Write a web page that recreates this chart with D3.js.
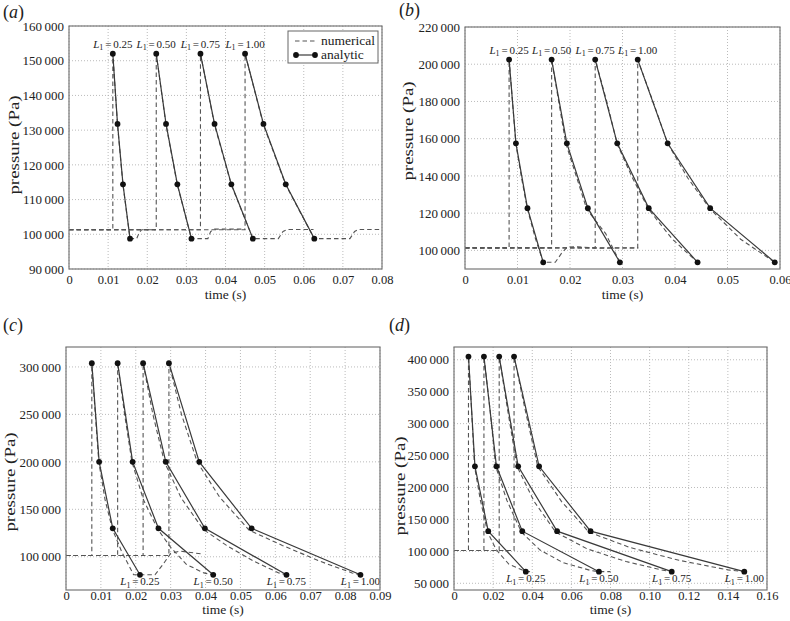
<!DOCTYPE html>
<html><head><meta charset="utf-8">
<script src="https://cdn.jsdelivr.net/npm/d3@7"></script>
<style>
body{margin:0;background:#fff}
svg text{font-family:"Liberation Serif","Times New Roman",serif;fill:#222}
</style>
</head><body>
<svg id="fig" width="790" height="621"></svg>
<script>
// ---------- shared ----------
const L1_VALUES = ["0.25", "0.50", "0.75", "1.00"];

// ---------- panel (a) ----------
const A_PRESSURE = [152000, 131800, 114400, 98750];
const A_TIMES = [
  [0.0112, 0.0124, 0.0138, 0.0156],
  [0.0223, 0.0248, 0.0277, 0.0313],
  [0.0336, 0.0372, 0.0415, 0.0470],
  [0.0450, 0.0497, 0.0554, 0.0627]
];
const A_NUMERICAL = [
  [[0,101325],[0.0112,101325],[0.0112,152000],[0.0124,131500],[0.0138,114200],[0.0156,98750],[0.0173,98750],[0.0180,100600],[0.0186,101325],[0.0220,101325]],
  [[0,101325],[0.0223,101325],[0.0223,152000],[0.0248,131500],[0.0277,114200],[0.0313,98750],[0.0355,98750],[0.0362,100800],[0.0372,101500],[0.0450,101500]],
  [[0,101325],[0.0336,101325],[0.0336,152000],[0.0372,131500],[0.0415,114200],[0.0470,98750],[0.0535,98750],[0.0547,100800],[0.0558,101400],[0.0625,101400]],
  [[0,101325],[0.0450,101325],[0.0450,152000],[0.0497,131500],[0.0554,114200],[0.0627,98750],[0.0718,98750],[0.0730,100800],[0.0740,101400],[0.0800,101400]]
];
const A_XTICKS = [0, 0.01, 0.02, 0.03, 0.04, 0.05, 0.06, 0.07, 0.08];
const A_YTICKS = [90000, 100000, 110000, 120000, 130000, 140000, 150000, 160000];

// ---------- panel (b) ----------
const B_PRESSURE = [202500, 157500, 122700, 93600];
const B_TIMES = [
  [0.0084, 0.0097, 0.0119, 0.0149],
  [0.0165, 0.0194, 0.0234, 0.0295],
  [0.0248, 0.0290, 0.0350, 0.0443],
  [0.0329, 0.0386, 0.0467, 0.0590]
];
const B_NUMERICAL = [
  [[0,101325],[0.0084,101325],[0.0084,202500],[0.0097,157000],[0.0108,138500],[0.0119,122000],[0.0134,106500],[0.0149,93600],[0.0172,93600],[0.0184,98500],[0.0195,101800],[0.0215,101900],[0.0250,101200],[0.0330,101325]],
  [[0,101325],[0.0165,101325],[0.0165,202500],[0.0192,157500],[0.0232,122000],[0.0268,109000],[0.0295,93600]],
  [[0,101325],[0.0248,101325],[0.0248,202500],[0.0270,180000],[0.0290,157000],[0.0318,139500],[0.0350,122000],[0.0395,106000],[0.0443,93600]],
  [[0,101325],[0.0329,101325],[0.0329,202500],[0.0358,180000],[0.0386,157500],[0.0424,139000],[0.0467,122200],[0.0525,106000],[0.0590,93600]]
];
const B_XTICKS = [0, 0.01, 0.02, 0.03, 0.04, 0.05, 0.06];
const B_YTICKS = [100000, 120000, 140000, 160000, 180000, 200000, 220000];

// ---------- panel (c) ----------
const C_PRESSURE = [304000, 200000, 130000, 81000];
const C_TIMES = [
  [0.0074, 0.0095, 0.0134, 0.0212],
  [0.0148, 0.0191, 0.0265, 0.0422],
  [0.0221, 0.0286, 0.0398, 0.0632],
  [0.0295, 0.0382, 0.0532, 0.0844]
];
const C_NUMERICAL = [
  [[0,101325],[0.0074,101325],[0.0074,304000],[0.0084,250000],[0.0094,200000],[0.0112,160000],[0.0133,129000],[0.0160,105000],[0.0194,81000],[0.0255,81000],[0.0278,92000],[0.0300,103500],[0.0326,106000],[0.0389,103000]],
  [[0,101325],[0.0148,101325],[0.0148,304000],[0.0168,250000],[0.0189,200000],[0.0222,160000],[0.0263,129000],[0.0300,110000],[0.0345,92000],[0.0395,83000],[0.0422,81000]],
  [[0,101325],[0.0221,101325],[0.0221,304000],[0.0249,250000],[0.0282,200000],[0.0330,162000],[0.0393,129000],[0.0460,112000],[0.0540,95000],[0.0610,83000],[0.0632,81000]],
  [[0,101325],[0.0295,101325],[0.0295,304000],[0.0331,250000],[0.0376,200000],[0.0440,163000],[0.0525,128000],[0.0620,112000],[0.0730,95000],[0.0820,83000],[0.0844,81000]]
];
const C_XTICKS = [0, 0.01, 0.02, 0.03, 0.04, 0.05, 0.06, 0.07, 0.08, 0.09];
const C_YTICKS = [100000, 150000, 200000, 250000, 300000];

// ---------- panel (d) ----------
const D_PRESSURE = [405000, 233200, 131600, 68200];
const D_TIMES = [
  [0.0074, 0.0107, 0.0175, 0.0367],
  [0.0153, 0.0217, 0.0349, 0.0741],
  [0.0231, 0.0328, 0.0527, 0.1113],
  [0.0307, 0.0435, 0.0698, 0.1484]
];
const D_NUMERICAL = [
  [[0,101325],[0.0074,101325],[0.0074,405000],[0.0090,320000],[0.0105,233000],[0.0135,180000],[0.0172,130000],[0.0215,103000],[0.0280,80000],[0.0367,68200],[0.0400,68200]],
  [[0,101325],[0.0153,101325],[0.0153,405000],[0.0185,320000],[0.0213,233000],[0.0270,180000],[0.0345,130000],[0.0440,102000],[0.0560,82000],[0.0700,70000],[0.0741,68200],[0.0800,68200]],
  [[0,101325],[0.0231,101325],[0.0231,405000],[0.0275,320000],[0.0322,233000],[0.0410,178000],[0.0520,130000],[0.0680,104000],[0.0880,84000],[0.1060,71000],[0.1113,68200]],
  [[0,101325],[0.0307,101325],[0.0307,405000],[0.0365,320000],[0.0428,233000],[0.0550,178000],[0.0690,130000],[0.0900,106000],[0.1150,86000],[0.1400,71000],[0.1484,68200]]
];
const D_XTICKS = [0, 0.02, 0.04, 0.06, 0.08, 0.10, 0.12, 0.14, 0.16];
const D_YTICKS = [50000, 100000, 150000, 200000, 250000, 300000, 350000, 400000];

// ---------- layout ----------
const PANELS = [
  {letter:"a", box:[69,26,382,269], xDom:[0,0.08], yDom:[90000,160000], xTicks:A_XTICKS, yTicks:A_YTICKS,
   times:A_TIMES, pressure:A_PRESSURE, numerical:A_NUMERICAL, labelsTop:true, legend:true,
   letterPos:[3,18], ylabX:14, ylabY:145, xlabBase:299, tickBase:284},
  {letter:"b", box:[465,27,780,269], xDom:[0,0.06], yDom:[90000,220000], xTicks:B_XTICKS, yTicks:B_YTICKS,
   times:B_TIMES, pressure:B_PRESSURE, numerical:B_NUMERICAL, labelsTop:true, legend:false,
   letterPos:[399,16], ylabX:408, ylabY:131, xlabBase:299, tickBase:284},
  {letter:"c", box:[66,347,380,590], xDom:[0,0.09], yDom:[65000,321000], xTicks:C_XTICKS, yTicks:C_YTICKS,
   times:C_TIMES, pressure:C_PRESSURE, numerical:C_NUMERICAL, labelsTop:false, legend:false,
   letterPos:[3,331], ylabX:10, ylabY:482, xlabBase:614, tickBase:600},
  {letter:"d", box:[454,347,767,590], xDom:[0,0.16], yDom:[39500,420000], xTicks:D_XTICKS, yTicks:D_YTICKS,
   times:D_TIMES, pressure:D_PRESSURE, numerical:D_NUMERICAL, labelsTop:false, legend:false,
   letterPos:[389,331], ylabX:400, ylabY:486, xlabBase:614, tickBase:600}
];

const svg = d3.select("#fig");
const yFmt = v => d3.format(",")(v).replace(/,/g, "\u2009");
const xFmt = v => v === 0 ? "0" : d3.format(".2f")(v);

function l1Label(g, x, y, val) {
  const t = g.append("text").attr("x", x).attr("y", y).attr("text-anchor", "middle")
    .attr("font-size", 11);
  t.append("tspan").attr("font-style", "italic").text("L");
  t.append("tspan").attr("font-size", 8).attr("dy", 2.5).text("1");
  t.append("tspan").attr("dy", -2.5).text("\u2006=\u2006" + val);
}

PANELS.forEach(p => {
  const [x0, y0, x1, y1] = p.box;
  const x = d3.scaleLinear().domain(p.xDom).range([x0, x1]);
  const y = d3.scaleLinear().domain(p.yDom).range([y1, y0]);
  const g = svg.append("g");

  // grid
  g.append("g").selectAll("line").data(p.xTicks).join("line")
    .attr("x1", d => x(d)).attr("x2", d => x(d)).attr("y1", y0).attr("y2", y1)
    .attr("stroke", "#aaa").attr("stroke-width", 0.8).attr("stroke-dasharray", "1,2");
  g.append("g").selectAll("line").data(p.yTicks).join("line")
    .attr("x1", x0).attr("x2", x1).attr("y1", d => y(d)).attr("y2", d => y(d))
    .attr("stroke", "#aaa").attr("stroke-width", 0.8).attr("stroke-dasharray", "1,2");

  // axes (labels only)
  const ax = g.append("g").attr("transform", `translate(0,${y1})`)
    .call(d3.axisBottom(x).tickValues(p.xTicks).tickSize(0).tickFormat(xFmt));
  ax.select(".domain").remove();
  ax.selectAll("text").attr("font-size", 12.5).attr("fill", "#222")
    .attr("dy", null).attr("y", p.tickBase - y1);
  const ay = g.append("g").attr("transform", `translate(${x0},0)`)
    .call(d3.axisLeft(y).tickValues(p.yTicks).tickSize(0).tickPadding(5).tickFormat(yFmt));
  ay.select(".domain").remove();
  ay.selectAll("text").attr("font-size", 13).attr("fill", "#222");

  // lines
  const line = d3.line().x(d => x(d[0])).y(d => y(d[1]));
  const clipId = "clip" + p.letter;
  svg.append("clipPath").attr("id", clipId).append("rect")
    .attr("x", x0).attr("y", y0).attr("width", x1 - x0).attr("height", y1 - y0);
  const plot = g.append("g").attr("clip-path", `url(#${clipId})`);

  p.numerical.forEach(s => {
    plot.append("path").attr("d", line(s)).attr("fill", "none")
      .attr("stroke", "#555").attr("stroke-width", 1.1).attr("stroke-dasharray", "4.5,3");
  });
  p.times.forEach((ts, i) => {
    const pts = ts.map((t, k) => [t, p.pressure[k]]);
    plot.append("path").attr("d", line(pts)).attr("fill", "none")
      .attr("stroke", "#3a3a3a").attr("stroke-width", 1.2);
    plot.selectAll(null).data(pts).join("circle")
      .attr("cx", d => x(d[0])).attr("cy", d => y(d[1])).attr("r", 2.9).attr("fill", "#111");
    if (p.labelsTop) {
      l1Label(g, x(pts[0][0]), y(pts[0][1]) - 6, L1_VALUES[i]);
    } else {
      const last = pts[pts.length - 1];
      l1Label(g, x(last[0]), y(last[1]) + 10.5, L1_VALUES[i]);
    }
  });

  // frame
  g.append("rect").attr("x", x0).attr("y", y0).attr("width", x1 - x0).attr("height", y1 - y0)
    .attr("fill", "none").attr("stroke", "#777").attr("stroke-width", 1.2);

  // axis titles
  g.append("text").attr("x", (x0 + x1) / 2).attr("y", p.xlabBase).attr("text-anchor", "middle")
    .attr("font-size", 13.5).text("time (s)");
  g.append("text").attr("transform", `translate(${p.ylabX},${p.ylabY}) rotate(-90) scale(1.35,1)`)
    .attr("text-anchor", "middle").attr("dy", "0.35em").attr("font-size", 14).text("pressure (Pa)");

  // panel letter
  const lt = g.append("text").attr("x", p.letterPos[0]).attr("y", p.letterPos[1]).attr("font-size", 18);
  lt.append("tspan").text("(");
  lt.append("tspan").attr("font-style", "italic").text(p.letter);
  lt.append("tspan").text(")");

  // legend
  if (p.legend) {
    const lg = g.append("g");
    lg.append("rect").attr("x", 288).attr("y", 31).attr("width", 90).attr("height", 32)
      .attr("fill", "#fff").attr("stroke", "#666").attr("stroke-width", 1);
    lg.append("line").attr("x1", 295).attr("x2", 316).attr("y1", 41).attr("y2", 41)
      .attr("stroke", "#555").attr("stroke-width", 1.1).attr("stroke-dasharray", "4.5,3");
    lg.append("text").attr("x", 321).attr("y", 45).attr("font-size", 13.5).text("numerical");
    lg.append("line").attr("x1", 296).attr("x2", 315).attr("y1", 55).attr("y2", 55)
      .attr("stroke", "#3a3a3a").attr("stroke-width", 1.2);
    lg.selectAll(null).data([296, 315]).join("circle").attr("cx", d => d).attr("cy", 55)
      .attr("r", 2.9).attr("fill", "#111");
    lg.append("text").attr("x", 321).attr("y", 59).attr("font-size", 13.5).text("analytic");
  }
});
</script>
</body></html>
